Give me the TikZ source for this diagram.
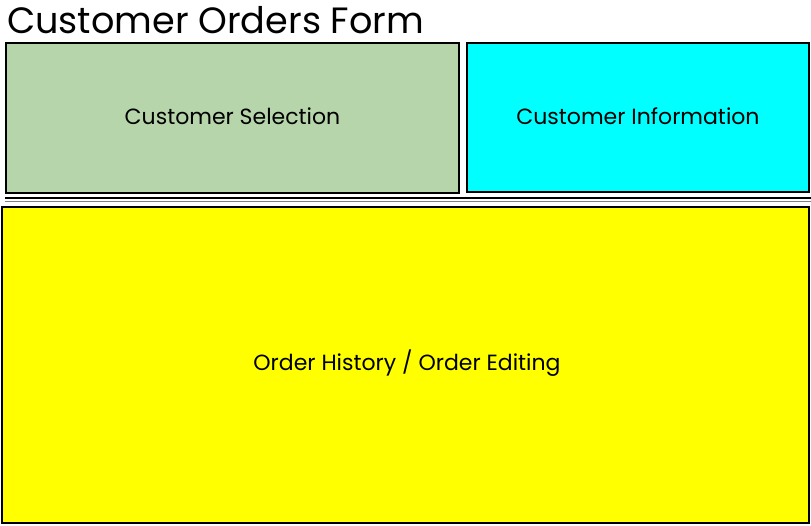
\documentclass[tikz,border=0pt]{standalone}
\usepackage{fontspec}
\setmainfont{Poppins}
\begin{document}
\begin{tikzpicture}[x=1pt,y=-1pt,
  panel/.style={draw=black,line width=2pt},
  lbl/.style={font=\fontsize{22}{24}\selectfont,text=black}]
\useasboundingbox[fill=white] (0,0) rectangle (811,525);
\definecolor{sage}{RGB}{182,213,170}
\definecolor{aqua}{RGB}{0,255,255}
\definecolor{lemon}{RGB}{255,255,0}
\node[anchor=base west,inner sep=0pt,font=\fontsize{36.6}{40}\selectfont] (title) at (7,33) {Customer Orders Form};
\path[panel,fill=sage] (6,43) rectangle (459,193);
\node[lbl] (sel) at (232.5,116) {Customer Selection};
\path[panel,fill=aqua] (467,43) rectangle (809,192);
\node[lbl] (info) at (638,116) {Customer Information};
\draw[line width=1.2pt] (5,198) -- (811,198);
\draw[line width=0.8pt,gray] (5,201) -- (811,201);
\path[panel,fill=lemon] (2,207) rectangle (809,523);
\node[lbl] (hist) at (407,363) {Order History / Order Editing};
\end{tikzpicture}
\end{document}
